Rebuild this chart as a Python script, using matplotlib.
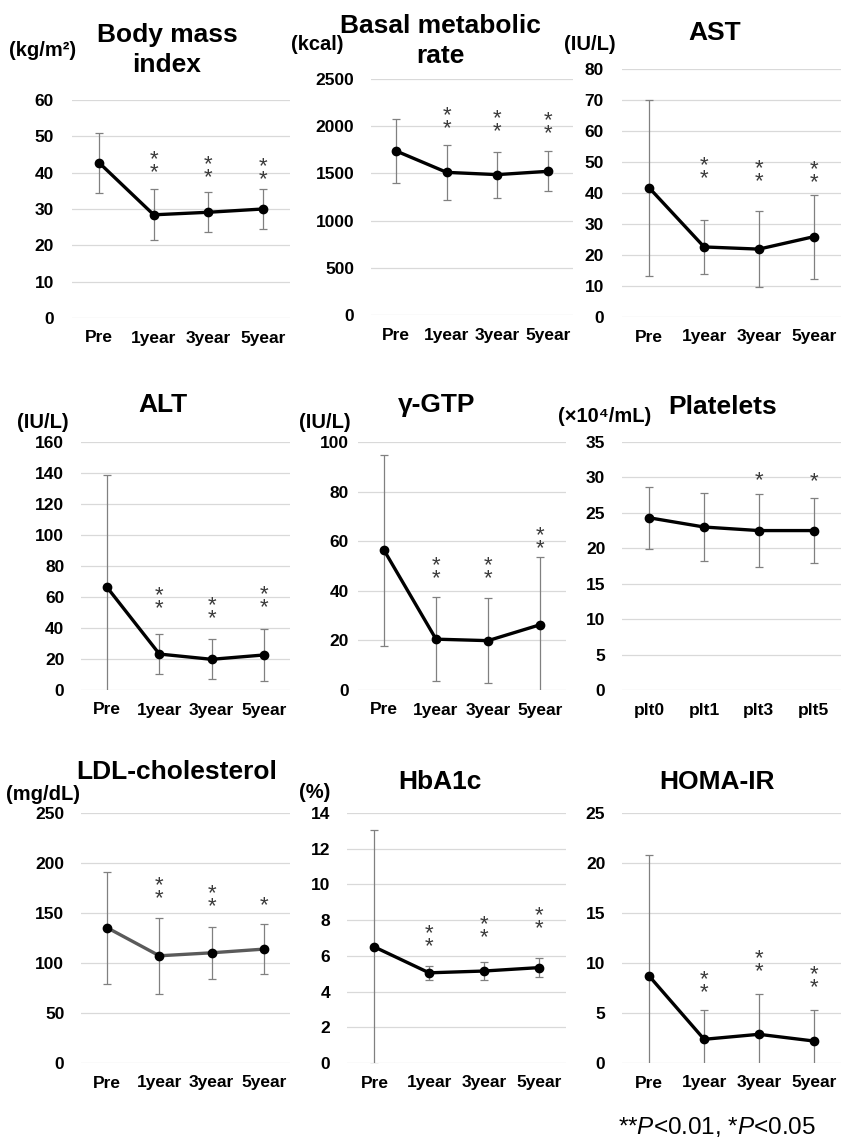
import numpy as np
import matplotlib
matplotlib.use("Agg")
import matplotlib.pyplot as plt

plt.rcParams['font.family'] = ['Liberation Sans', 'DejaVu Sans']
plt.rcParams['mathtext.fontset'] = 'custom'
plt.rcParams['mathtext.rm'] = 'Liberation Sans'
plt.rcParams['mathtext.it'] = 'Liberation Sans:italic'

# ---- data ----
groups = ["Pre", "1year", "3year", "5year"]
plt_groups = ["plt0", "plt1", "plt3", "plt5"]

bmi_mean = [42.7, 28.4, 29.1, 30.0]
bmi_sd = [8.3, 7.0, 5.5, 5.6]
bmi_stars = [0, 2, 2, 2]
bmi_star_y = [np.nan, 43.3, 42.0, 41.3]

bmr_mean = [1737, 1511, 1487, 1522]
bmr_sd = [343, 288, 244, 212]
bmr_stars = [0, 2, 2, 2]
bmr_star_y = [np.nan, 2094, 2066, 2048]

ast_mean = [41.6, 22.6, 21.9, 25.9]
ast_sd = [28.5, 8.8, 12.2, 13.5]
ast_stars = [0, 2, 2, 2]
ast_star_y = [np.nan, 48.4, 47.6, 47.2]

alt_mean = [66.2, 23.2, 19.8, 22.6]
alt_sd = [72.5, 12.9, 12.9, 16.5]
alt_stars = [0, 2, 2, 2]
alt_star_y = [np.nan, 60.1, 53.5, 60.6]

gtp_mean = [56.4, 20.5, 19.9, 26.3]
gtp_sd = [38.5, 17.0, 17.1, 27.2]
gtp_stars = [0, 2, 2, 2]
gtp_star_y = [np.nan, 49.7, 49.8, 61.7]

plt_mean = [24.3, 23.0, 22.5, 22.5]
plt_sd = [4.4, 4.8, 5.2, 4.6]
plt_stars = [0, 0, 1, 1]
plt_star_y = [np.nan, np.nan, 30.3, 30.2]

ldl_mean = [135.3, 107.2, 110.2, 113.9]
ldl_sd = [56.0, 38.1, 26.0, 25.0]
ldl_stars = [0, 2, 2, 1]
ldl_star_y = [np.nan, 176, 168.4, 163.1]

hba_mean = [6.50, 5.05, 5.15, 5.34]
hba_sd = [6.57, 0.40, 0.52, 0.53]
hba_stars = [0, 2, 2, 2]
hba_star_y = [np.nan, 7.17, 7.69, 8.16]

homa_mean = [8.67, 2.37, 2.87, 2.20]
homa_sd = [12.16, 2.9, 4.0, 3.07]
homa_stars = [0, 2, 2, 2]
homa_star_y = [np.nan, 8.17, 10.27, 8.73]

W, H = 841, 1140
fig = plt.figure(figsize=(W / 100, H / 100), dpi=100)


def px_axes(x0, x1, y0, y1):
    # pixel box -> figure fraction
    return fig.add_axes([x0 / W, 1 - y1 / H, (x1 - x0) / W, (y1 - y0) / H])


def ftext(x, y, s, **kw):
    fig.text(x / W, 1 - y / H, s, ha='center', va='center', **kw)


def panel(box, labels, mean, sd, stars, star_y, ymax, step,
          title, tpos, unit=None, upos=None, pad=12, lcolor='black'):
    ax = px_axes(*box)
    x = np.arange(len(labels))
    ax.errorbar(x, mean, yerr=sd, fmt='none', ecolor='#808080',
                elinewidth=0.9, capsize=3, capthick=0.9, zorder=2)
    ax.plot(x, mean, color=lcolor, lw=2.4, zorder=3)
    ax.plot(x, mean, 'o', color='black', ms=6, zorder=4)
    fs = 16
    for xi, n, sy in zip(x, stars, star_y):
        if n == 0:
            continue
        # stacked asterisks as one text, shifted so the ink sits on sy
        ax.annotate("\n".join(['*'] * n), xy=(xi, sy), xytext=(0, -0.24 * fs),
                    textcoords='offset points', ha='center', va='center',
                    fontsize=fs, color='#3a3a3a', linespacing=0.5)
    ax.set_xlim(-0.5, len(labels) - 0.5)
    ax.set_ylim(0, ymax)
    ax.set_yticks(np.arange(0, ymax + step / 2, step))
    ax.set_xticks(x)
    ax.set_xticklabels(labels)
    ax.yaxis.grid(True, color='#d9d9d9', lw=0.9)
    ax.set_axisbelow(True)
    for s in ax.spines.values():
        s.set_visible(False)
    ax.tick_params(axis='y', length=0, pad=pad, labelsize=12.5)
    ax.tick_params(axis='x', length=0, pad=9, labelsize=12.5)
    for t in ax.get_xticklabels() + ax.get_yticklabels():
        t.set_fontweight('bold')
    ftext(*tpos, title, fontsize=19, fontweight='bold', linespacing=1.3)
    if unit:
        ftext(*upos, unit, fontsize=14.5, fontweight='bold')
    return ax


panel((72, 290, 100, 318), groups, bmi_mean, bmi_sd, bmi_stars, bmi_star_y, 60, 10,
      "Body mass\nindex", (167, 50), "(kg/m²)", (43, 50), pad=13)
panel((371, 573, 79, 315), groups, bmr_mean, bmr_sd, bmr_stars, bmr_star_y, 2500, 500,
      "Basal metabolic\nrate", (440, 41), "(kcal)", (317, 45))
panel((622, 841, 69, 317), groups, ast_mean, ast_sd, ast_stars, ast_star_y, 80, 10,
      "AST", (715, 33), "(IU/L)", (590, 45), pad=13)

panel((81, 290, 442, 690), groups, alt_mean, alt_sd, alt_stars, alt_star_y, 160, 20,
      "ALT", (163, 405), "(IU/L)", (43, 422))
panel((358, 566, 442, 690), groups, gtp_mean, gtp_sd, gtp_stars, gtp_star_y, 100, 20,
      "γ-GTP", (437, 405), "(IU/L)", (325, 422), pad=6.5)
panel((622, 841, 442, 690), plt_groups, plt_mean, plt_sd, plt_stars, plt_star_y, 35, 5,
      "Platelets", (723, 407), "(×10⁴/mL)", (605, 417))

panel((81, 290, 813, 1063), groups, ldl_mean, ldl_sd, ldl_stars, ldl_star_y, 250, 50,
      "LDL-cholesterol", (177, 772), "(mg/dL)", (43, 795), lcolor='#5a5a5a')
panel((347, 566, 813, 1063), groups, hba_mean, hba_sd, hba_stars, hba_star_y, 14, 2,
      "HbA1c", (440, 782), "(%)", (315, 793))
panel((622, 841, 813, 1063), groups, homa_mean, homa_sd, homa_stars, homa_star_y, 25, 5,
      "HOMA-IR", (717, 782))

ftext(717, 1127, r"**$P$<0.01, *$P$<0.05", fontsize=17.5)

fig.savefig("out.png", dpi=100)
